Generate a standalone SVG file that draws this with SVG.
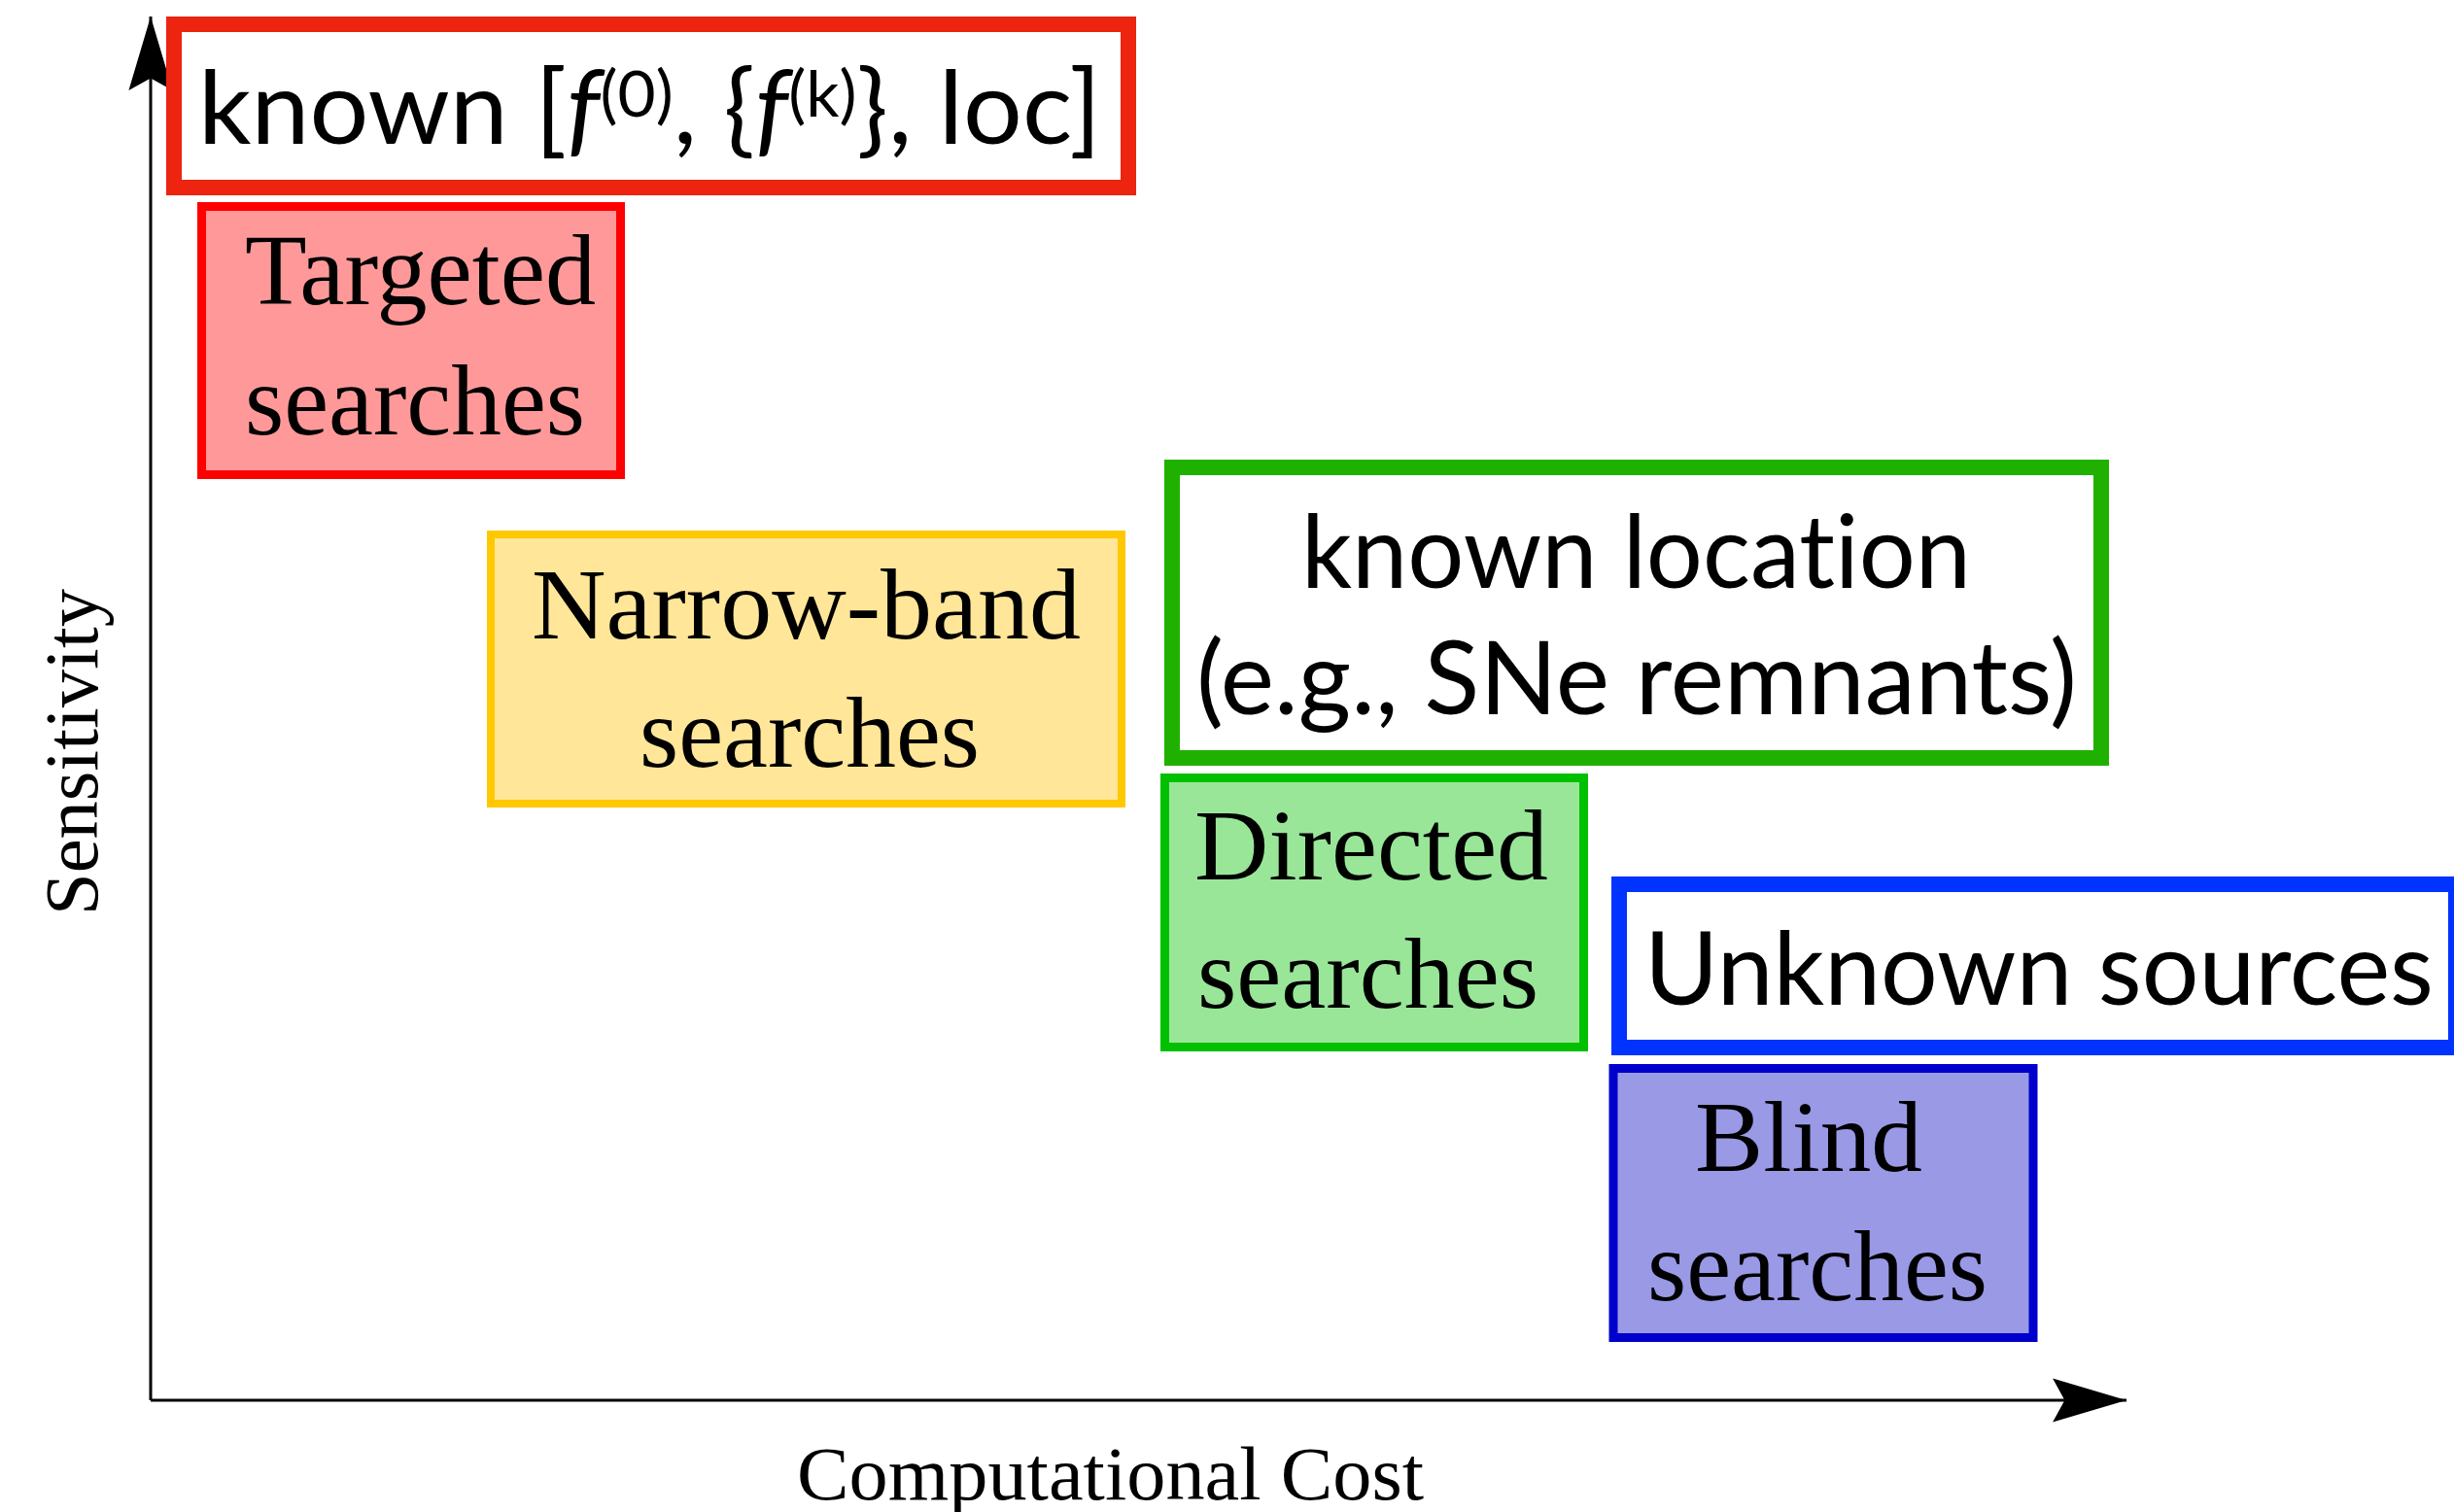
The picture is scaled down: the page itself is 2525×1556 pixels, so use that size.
<svg xmlns="http://www.w3.org/2000/svg" width="2525" height="1556" viewBox="0 0 2525 1556">
<style>
.serif{font-family:"Liberation Serif","Times New Roman",serif;font-size:103px;fill:#000}
.sans{font-family:Lato,"Open Sans","DejaVu Sans",sans-serif;font-size:105px;fill:#000;font-variant-ligatures:none;font-feature-settings:"liga" 0,"clig" 0,"dlig" 0,"calt" 0}
.axis{stroke:#000;stroke-width:3;fill:none}
.lbl{font-family:"Liberation Serif","Times New Roman",serif;font-size:79px;fill:#000}
</style>
<defs>
<marker id="arr" markerUnits="userSpaceOnUse" markerWidth="80" markerHeight="50" viewBox="-76 -24 78 48" refX="0" refY="0" orient="auto">
<path d="M0,0 L-74,-22 L-62,0 L-74,22 Z" fill="#000"/>
</marker>
</defs>
<rect width="2525" height="1556" fill="#fff"/>
<g id="connectors">
<path class="axis" d="M155,1441 L155,17" marker-end="url(#arr)"/>
<path class="axis" d="M155,1441 L2188,1441" marker-end="url(#arr)"/>
</g>
<g id="known-all">
<rect x="179" y="25" width="982" height="168" fill="#fff" stroke="#ec2410" stroke-width="16"/>
<text class="sans" x="204" y="148" textLength="929" lengthAdjust="spacingAndGlyphs">known [<tspan font-style="italic">f</tspan><tspan font-size="66" dy="-28">(0)</tspan><tspan dy="28">, {</tspan><tspan font-style="italic">f</tspan><tspan font-size="66" dy="-28">(k)</tspan><tspan dy="28">}, loc]</tspan></text>
</g>
<g id="targeted">
<rect x="207.5" y="212.5" width="431" height="276" fill="#ff9999" stroke="#ff0000" stroke-width="9"/>
<text class="serif" x="252" y="313" textLength="361" lengthAdjust="spacingAndGlyphs">Targeted</text>
<text class="serif" x="252" y="447" textLength="350" lengthAdjust="spacingAndGlyphs">searches</text>
</g>
<g id="narrowband">
<rect x="505" y="550" width="649" height="277" fill="#ffe699" stroke="#ffc800" stroke-width="8"/>
<text class="serif" x="547" y="657" textLength="565" lengthAdjust="spacingAndGlyphs">Narrow-band</text>
<text class="serif" x="658" y="789" textLength="350" lengthAdjust="spacingAndGlyphs">searches</text>
</g>
<g id="known-location">
<rect x="1206" y="481" width="956" height="299" fill="#fff" stroke="#20b000" stroke-width="16"/>
<text class="sans" x="1339" y="605" textLength="689" lengthAdjust="spacingAndGlyphs">known location</text>
<text class="sans" x="1231" y="735" textLength="906" lengthAdjust="spacingAndGlyphs">(e.g., SNe remnants)</text>
</g>
<g id="directed">
<rect x="1198.5" y="800.5" width="431" height="277" fill="#99e699" stroke="#00c000" stroke-width="9"/>
<text class="serif" x="1229" y="905" textLength="364" lengthAdjust="spacingAndGlyphs">Directed</text>
<text class="serif" x="1232" y="1037" textLength="351" lengthAdjust="spacingAndGlyphs">searches</text>
</g>
<g id="unknown">
<rect x="1666" y="910" width="861" height="168" fill="#fff" stroke="#0033ff" stroke-width="16"/>
<text class="sans" x="1692" y="1034" textLength="812" lengthAdjust="spacingAndGlyphs">Unknown sources</text>
</g>
<g id="blind">
<rect x="1660" y="1099.5" width="432" height="277" fill="#9999e6" stroke="#0000cc" stroke-width="9"/>
<text class="serif" x="1744" y="1205" textLength="234" lengthAdjust="spacingAndGlyphs">Blind</text>
<text class="serif" x="1695" y="1338" textLength="350" lengthAdjust="spacingAndGlyphs">searches</text>
</g>
<g id="axis-labels">
<text class="lbl" transform="translate(100,942) rotate(-90)" textLength="336" lengthAdjust="spacingAndGlyphs">Sensitivity</text>
<text class="lbl" x="820" y="1543" textLength="645" lengthAdjust="spacingAndGlyphs">Computational Cost</text>
</g>
</svg>
